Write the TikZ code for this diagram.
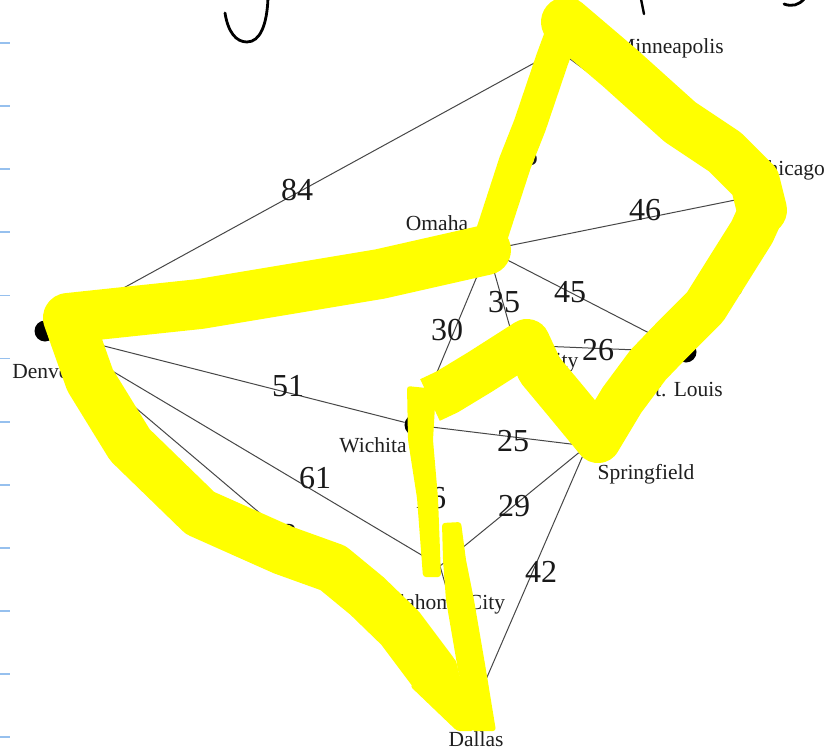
\documentclass[tikz,border=0pt]{standalone}
\usepackage{fontspec}
\setmainfont{Liberation Serif}
\definecolor{hly}{RGB}{255,255,0}
\definecolor{tickblue}{RGB}{150,192,238}
\begin{document}
\begin{tikzpicture}[x=1pt,y=-1pt,
  city/.style={circle,fill=black,inner sep=0pt,minimum size=21pt},
  ghost/.style={inner sep=0pt,minimum size=0pt},
  cname/.style={font=\fontsize{21.5}{24}\selectfont,text=black!88,inner sep=0pt},
  wt/.style={font=\fontsize{32}{36}\selectfont,text=black!90,inner sep=0pt},
  edge/.style={draw=black!72,line width=1pt},
  hl/.style={draw=hly,line join=round},
  hlfill/.style={fill=hly,rounded corners=3pt},
  ink/.style={draw=black,line width=2.8pt,line cap=round},
  tickmark/.style={draw=tickblue,line width=1.8pt}]
\fill[white] (0,0) rectangle (827,749);
\useasboundingbox (0,0) rectangle (827,749);

% cities
\node[city] (den) at (45,331) {};
\node[city] (min) at (558,50) {};
\node[city] (chi) at (755,196) {};
\node[city] (oma) at (488,250) {};
\node[city] (kc)  at (515,345) {};
\node[city] (stl) at (686,352) {};
\node[city] (wic) at (415,425) {};
\node[city] (spr) at (587,446) {};
\node[ghost] (okc) at (440,566) {};
\node[city] (dal) at (478,698) {};

% edges
\draw[edge] (den) -- (min);
\draw[edge] (den) -- (oma);
\draw[edge] (den) -- (wic);
\draw[edge] (den) -- (okc);
\draw[edge] (den) -- (dal);
\draw[edge] (min) -- (oma);
\draw[edge] (min) -- (chi);
\draw[edge] (oma) -- (chi);
\draw[edge] (oma) -- (stl);
\draw[edge] (oma) -- (kc);
\draw[edge] (oma) -- (wic);
\draw[edge] (kc) -- (stl);
\draw[edge] (kc) -- (spr);
\draw[edge] (chi) -- (stl);
\draw[edge] (stl) -- (spr);
\draw[edge] (wic) -- (spr);
\draw[edge] (wic) -- (okc);
\draw[edge] (okc) -- (spr);
\draw[edge] (spr) -- (dal);
\draw[edge] (okc) -- (dal);

% weights
\node[wt] (w84) at (297,190) {84};
\node[wt] (w46) at (645,210) {46};
\node[wt] (w45) at (570,292) {45};
\node[wt] (w35) at (504,302) {35};
\node[wt] (w30) at (447,330) {30};
\node[wt] (w26) at (598,350) {26};
\node[wt] (w51) at (288,386) {51};
\node[wt] (w25) at (513,441) {25};
\node[wt] (w61) at (315,478) {61};
\node[wt] (w16) at (430,498) {16};
\node[wt] (w29) at (514,506) {29};
\node[wt] (w42) at (541,572) {42};
\node[wt] (wmo) at (522,155) {35};
\node[wt] (wcs) at (728,285) {30};
\node[wt] (wdd) at (281,535) {83};

% city names
\node[cname] (lden) at (44,372) {Denver};
\node[cname] (lmin) at (670,48) {Minneapolis};
\node[cname] (lchi) at (789,170) {Chicago};
\node[cname] (loma) at (437,223) {Omaha};
\node[cname] (lkc)  at (526,363) {Kansas City};
\node[cname] (lstl) at (683,390) {St. Louis};
\node[cname] (lwic) at (373,445) {Wichita};
\node[cname] (lspr) at (646,474) {Springfield};
\node[cname] (lokc) at (439,604) {Oklahoma City};
\node[cname] (ldal) at (476,739) {Dallas};

% highlighter
\draw[hl,line width=50pt,line cap=round] (433,672) -- (400,628) -- (367,596) -- (333,568) -- (283,550) -- (200,513) -- (130,445) -- (90,380) -- (68,318) -- (200,304) -- (380,274) -- (486,250);
\fill[hlfill] (410,686) -- (455,658) -- (474,731) -- (457,731) -- cycle;
\draw[hl,line width=33pt,line cap=round] (488,246) -- (515,163) -- (530,125) -- (552,60) -- (566,22);
\draw[hl,line width=50pt,line cap=round] (566,22) -- (620,68) -- (680,122) -- (725,152) -- (755,182) -- (762,210);
\draw[hl,line width=46pt,line cap=butt] (762,210) -- (752,232) -- (730,267) -- (705,307) -- (672,340) -- (648,365) -- (622,400) -- (598,440) -- (565,400) -- (540,370) -- (527,342) -- (480,372) -- (447,392) -- (430,400);
\fill[hly] (762,210) circle (23);
\fill[hlfill] (407,386) -- (436,389) -- (433,440) -- (438,498) -- (441,577) -- (423,577) -- (417,498) -- (408,440) -- cycle;
\fill[hlfill] (442,523) -- (461,522) -- (466,560) -- (474,600) -- (486,670) -- (496,731) -- (472,731) -- (458,670) -- (446,600) -- (443,560) -- cycle;

% handwriting
\draw[ink] (225,13) .. controls (228,32) and (236,42) .. (247,42) .. controls (260,42) and (267,25) .. (268,-2);
\draw[ink,line width=2.4pt] (641,-1) -- (644,14);
\draw[ink] (784,4) .. controls (792,7) and (799,5) .. (804,-1);

% margin ticks
\foreach \k in {0,...,11} \draw[tickmark] (0,{43+63.1*\k}) -- (10,{43+63.1*\k});
\end{tikzpicture}
\end{document}
